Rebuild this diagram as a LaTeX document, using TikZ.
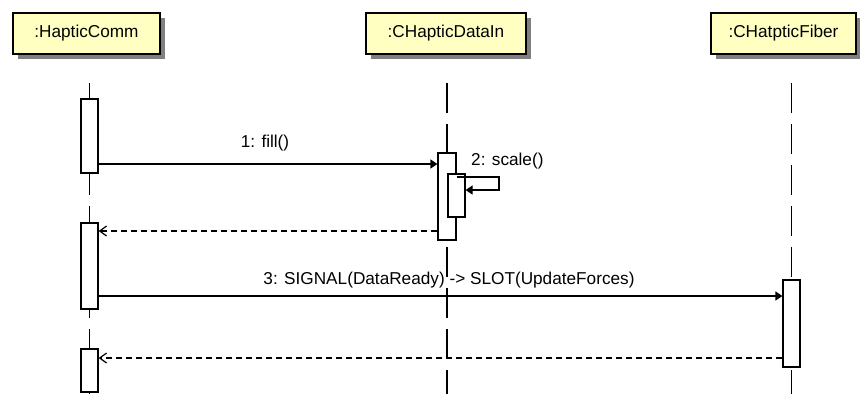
\documentclass[tikz,border=0pt]{standalone}
\usepackage{fontspec}
\setmainfont{Liberation Sans}
\usetikzlibrary{arrows.meta,shadows}
\definecolor{objfill}{RGB}{255,255,194}
\definecolor{shadowgray}{RGB}{128,128,128}
\tikzset{
  obj/.style={draw, line width=1.2pt, fill=objfill, minimum height=41pt, inner sep=0pt,
    font=\fontsize{17.2}{20}\selectfont,
    drop shadow={shadow xshift=5pt, shadow yshift=-5pt, opacity=1, fill=shadowgray}},
  lifeline/.style={line width=1.1pt, dash pattern=on 30pt off 11pt},
  act/.style={draw, line width=1.2pt, fill=white, minimum width=17pt, inner sep=0pt},
  call/.style={line width=1.2pt, -{Triangle[length=7pt,width=9pt]}},
  ret/.style={line width=1.2pt, dash pattern=on 6pt off 4pt, -{Straight Barb[length=7pt,width=10pt]}},
  lbl/.style={font=\fontsize{17.2}{20}\selectfont, inner sep=0pt, anchor=base}
}
\begin{document}
\begin{tikzpicture}[x=1pt,y=-1pt]
\useasboundingbox (0,0) rectangle (860,394);
% objects
\node[obj, minimum width=147pt] (comm) at (86.5,33.5) {:HapticComm};
\node[obj, minimum width=160pt] (datain) at (446,33.5) {:CHapticDataIn};
\node[obj, minimum width=145pt] (fiber) at (783.5,33.5) {:CHatpticFiber};
% lifelines
\foreach \x in {89.5,447,791.5}
\draw[lifeline] (\x,83) -- (\x,394);
% activations
\node[act, minimum height=74pt] (c1) at (89.5,136) {};
\node[act, minimum height=86pt] (c2) at (89.5,266) {};
\node[act, minimum height=43pt] (c3) at (89.5,370.5) {};
\node[act, minimum width=18pt, minimum height=87pt] (d1) at (447,196.5) {};
\node[act, minimum height=43pt] (d2) at (456.5,195.5) {};
\node[act, minimum height=87pt] (f1) at (791.5,323.5) {};
%%%%
\draw[call] (c1.east |- 0,164) -- node[lbl, xshift=-3pt, yshift=17pt] {1: fill()} (d1.west |- 0,164);
\draw[call] (d1.east |- 0,177) -- (499,177) -- (499,190) -- (d2.east |- 0,190);
\node[lbl, anchor=base west] (scale) at (471,165) {2: scale()};
\draw[ret] (d1.west |- 0,231) -- (c2.east |- 0,231);
\draw[call] (c2.east |- 0,296) -- node[lbl, xshift=8.5pt, yshift=12pt] {3: SIGNAL(DataReady) -> SLOT(UpdateForces)} (f1.west |- 0,296);
\draw[ret] (f1.west |- 0,358) -- (c3.east |- 0,358);
\end{tikzpicture}
\end{document}
